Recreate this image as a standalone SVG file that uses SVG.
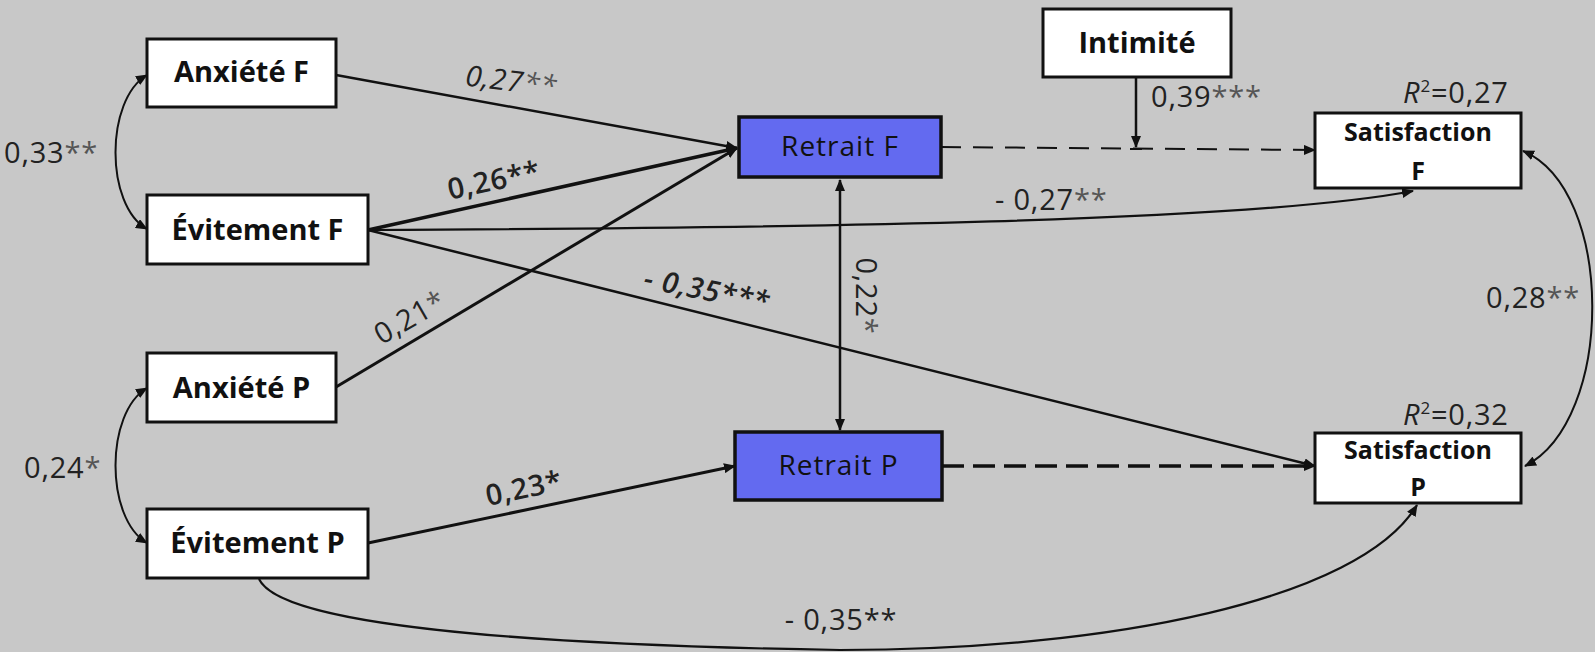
<svg xmlns="http://www.w3.org/2000/svg" width="1595" height="652" viewBox="0 0 1595 652">
<style>
.bg{fill:#c8c8c8}
.box{fill:#ffffff;stroke:#111;stroke-width:3}
.blue{fill:#636af0;stroke:#111;stroke-width:3.5}
.nl{font-family:"Open Sans","Liberation Sans",sans-serif;font-weight:700;font-size:29px;fill:#111;text-anchor:middle}
.sl{font-family:"Open Sans","Liberation Sans",sans-serif;font-weight:700;font-size:25px;fill:#111;text-anchor:middle}
.rl{font-family:"Open Sans","Liberation Sans",sans-serif;font-weight:400;font-size:28px;fill:#111;text-anchor:middle;letter-spacing:1px}
.lab{font-family:"Open Sans","Liberation Sans",sans-serif;font-size:29px;fill:#222;letter-spacing:0.8px}
.st{fill:#555}
.ln{fill:none;stroke:#111;stroke-width:2.5}
</style>
<defs>
<marker id="ah" viewBox="0 0 12 10" refX="11" refY="5" markerWidth="12" markerHeight="10" markerUnits="userSpaceOnUse" orient="auto-start-reverse">
<path d="M0,0 L12,5 L0,10 Z" fill="#111"/>
</marker>
</defs>
<rect class="bg" x="0" y="0" width="1595" height="652"/>

<g id="connectors">
<path class="ln" d="M336,75 L737,148" marker-end="url(#ah)"/>
<path class="ln" style="stroke-width:3.5" d="M368,230 L737,148" marker-end="url(#ah)"/>
<path class="ln" style="stroke-width:3" d="M336,387 L737,148" marker-end="url(#ah)"/>
<path class="ln" d="M368,230 L1315,466" marker-end="url(#ah)"/>
<path class="ln" style="stroke-width:2.2" d="M368,230 C800,228 1250,222 1413,191" marker-end="url(#ah)"/>
<path class="ln" style="stroke-width:3" d="M368,543 L735,466" marker-end="url(#ah)"/>
<path class="ln" style="stroke-width:2" d="M941,147 L1315,150" stroke-dasharray="20 12" marker-end="url(#ah)"/>
<path class="ln" style="stroke-width:3.5" d="M942,466 L1315,466" stroke-dasharray="22 9" marker-end="url(#ah)"/>
<path class="ln" style="stroke-width:2.5" d="M1136,77 L1136,147" marker-end="url(#ah)"/>
<path class="ln" style="stroke-width:2" d="M1130,149 L1142,149"/>
<path class="ln" d="M840,180 L840,430" marker-start="url(#ah)" marker-end="url(#ah)"/>
<path class="ln" style="stroke-width:2" d="M147,75 C105,100 105,205 147,229" marker-start="url(#ah)" marker-end="url(#ah)"/>
<path class="ln" style="stroke-width:2" d="M147,388 C105,413 105,518 147,543" marker-start="url(#ah)" marker-end="url(#ah)"/>
<path class="ln" style="stroke-width:2" d="M1523,151 C1615,190 1615,420 1525,466" marker-start="url(#ah)" marker-end="url(#ah)"/>
<path class="ln" style="stroke-width:2.2" d="M259,579 C280,625 520,645 840,650 C1110,650 1360,600 1417,505" marker-end="url(#ah)"/>
</g>

<g id="labels">
<text class="lab" x="4" y="163">0,33<tspan class="st">**</tspan></text>
<text class="lab" x="24" y="478">0,24<tspan class="st">*</tspan></text>
<text class="lab" font-style="italic" transform="translate(510,91) rotate(7)" text-anchor="middle">0,27<tspan class="st">**</tspan></text>
<text class="lab" font-weight="600" transform="translate(496,190) rotate(-12)" text-anchor="middle">0,26**</text>
<text class="lab" transform="translate(415,326) rotate(-30)" text-anchor="middle">0,21<tspan class="st">*</tspan></text>
<text class="lab" font-weight="600" font-style="italic" transform="translate(705,300) rotate(11)" text-anchor="middle">- 0,35***</text>
<text class="lab" transform="translate(856,296) rotate(90)" text-anchor="middle">0,22<tspan class="st">*</tspan></text>
<text class="lab" font-weight="600" transform="translate(526,498) rotate(-11.8)" text-anchor="middle">0,23*</text>
<text class="lab" x="995" y="210">- 0,27<tspan class="st">**</tspan></text>
<text class="lab" x="841" y="630" text-anchor="middle">- 0,35**</text>
<text class="lab" x="1151" y="107">0,39<tspan class="st">***</tspan></text>
<text class="lab" x="1486" y="308">0,28<tspan class="st">**</tspan></text>
<text class="lab" x="1403" y="103"><tspan font-style="italic">R</tspan><tspan font-size="17" dy="-11">2</tspan><tspan dy="11">=0,27</tspan></text>
<text class="lab" x="1403" y="425"><tspan font-style="italic">R</tspan><tspan font-size="17" dy="-11">2</tspan><tspan dy="11">=0,32</tspan></text>
</g>

<g id="anxiete-f"><rect class="box" x="147" y="39" width="189" height="68"/><text class="nl" x="241.5" y="82">Anxiété F</text></g>
<g id="evitement-f"><rect class="box" x="147" y="195" width="221" height="69"/><text class="nl" x="257.5" y="240">Évitement F</text></g>
<g id="anxiete-p"><rect class="box" x="147" y="353" width="189" height="69"/><text class="nl" x="241.5" y="398">Anxiété P</text></g>
<g id="evitement-p"><rect class="box" x="147" y="509" width="221" height="69"/><text class="nl" x="257.5" y="553">Évitement P</text></g>
<g id="retrait-f"><rect class="blue" x="739" y="117" width="202" height="60"/><text class="rl" x="840" y="156">Retrait F</text></g>
<g id="retrait-p"><rect class="blue" x="735" y="432" width="207" height="68"/><text class="rl" x="838.5" y="475">Retrait P</text></g>
<g id="intimite"><rect class="box" x="1043" y="9" width="188" height="68"/><text class="nl" x="1137" y="53">Intimité</text></g>
<g id="satisfaction-f"><rect class="box" x="1315" y="113" width="206" height="75"/><text class="sl" x="1418" y="141">Satisfaction</text><text class="sl" x="1418" y="180">F</text></g>
<g id="satisfaction-p"><rect class="box" x="1315" y="433" width="206" height="70"/><text class="sl" x="1418" y="459">Satisfaction</text><text class="sl" x="1418" y="496">P</text></g>
</svg>
